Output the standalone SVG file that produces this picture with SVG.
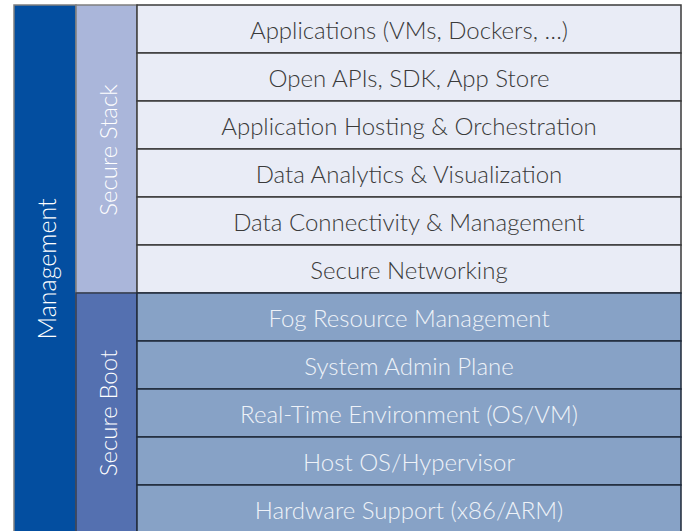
<svg xmlns="http://www.w3.org/2000/svg" width="682" height="531" viewBox="0 0 682 531">
<style>
.t{font-family:Lato,"Noto Sans","Liberation Sans",sans-serif;font-weight:300;font-size:24px;text-anchor:middle;dominant-baseline:central}
.up rect{fill:#E9ECF6;stroke:#3a3a3a;stroke-width:1.5}
.up text{fill:#3a3a3a}
.lo rect{fill:#87A2C6;stroke:#1f2a3a;stroke-width:1.5}
.lo text{fill:#EEF2F8}
.side{fill:#ffffff;font-size:24px}
</style>
<rect width="682" height="531" fill="#ffffff"/>
<g id="management">
<rect x="14" y="5" width="62" height="530" fill="#034EA0" stroke="#7f7f7f" stroke-width="1.5"/>
<text class="t side" style="font-size:25px" transform="translate(46,269) rotate(-90)">Management</text>
</g>
<g id="secure-stack">
<rect x="76" y="5" width="61" height="288" fill="#AAB6DA" stroke="#7f7f7f" stroke-width="1.5"/>
<text class="t side" transform="translate(107,150) rotate(-90)">Secure Stack</text>
</g>
<g id="secure-boot">
<rect x="76" y="293" width="61" height="242" fill="#5470B0" stroke="#333c50" stroke-width="1.5"/>
<text class="t side" transform="translate(107,413) rotate(-90)">Secure Boot</text>
</g>
<g id="row1" class="up"><rect x="137" y="5" width="544" height="48"/><text class="t" x="409" y="29">Applications (VMs, Dockers, …)</text></g>
<g id="row2" class="up"><rect x="137" y="53" width="544" height="48"/><text class="t" x="409" y="77">Open APIs, SDK, App Store</text></g>
<g id="row3" class="up"><rect x="137" y="101" width="544" height="48"/><text class="t" x="409" y="125">Application Hosting &amp; Orchestration</text></g>
<g id="row4" class="up"><rect x="137" y="149" width="544" height="48"/><text class="t" x="409" y="173">Data Analytics &amp; Visualization</text></g>
<g id="row5" class="up"><rect x="137" y="197" width="544" height="48"/><text class="t" x="409" y="221">Data Connectivity &amp; Management</text></g>
<g id="row6" class="up"><rect x="137" y="245" width="544" height="48"/><text class="t" x="409" y="269">Secure Networking</text></g>
<g id="row7" class="lo"><rect x="137" y="293" width="544" height="48"/><text class="t" x="409" y="317">Fog Resource Management</text></g>
<g id="row8" class="lo"><rect x="137" y="341" width="544" height="48"/><text class="t" x="409" y="365">System Admin Plane</text></g>
<g id="row9" class="lo"><rect x="137" y="389" width="544" height="48"/><text class="t" x="409" y="413">Real-Time Environment (OS/VM)</text></g>
<g id="row10" class="lo"><rect x="137" y="437" width="544" height="48"/><text class="t" x="409" y="461">Host OS/Hypervisor</text></g>
<g id="row11" class="lo"><rect x="137" y="485" width="544" height="50"/><text class="t" x="409" y="509">Hardware Support (x86/ARM)</text></g>
<g id="connectors"></g>
</svg>
